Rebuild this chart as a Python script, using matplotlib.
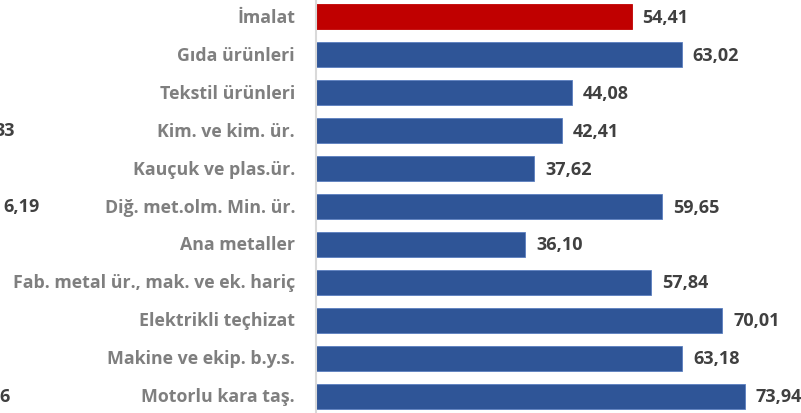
import matplotlib
matplotlib.use("Agg")
import matplotlib.pyplot as plt

categories = ["İmalat", "Gıda ürünleri", "Tekstil ürünleri", "Kim. ve kim. ür.",
              "Kauçuk ve plas.ür.", "Diğ. met.olm. Min. ür.", "Ana metaller",
              "Fab. metal ür., mak. ve ek. hariç", "Elektrikli teçhizat",
              "Makine ve ekip. b.y.s.", "Motorlu kara taş."]
values = [54.41, 63.02, 44.08, 42.41, 37.62, 59.65, 36.10, 57.84, 70.01, 63.18, 73.94]
value_labels = ["54,41", "63,02", "44,08", "42,41", "37,62", "59,65", "36,10",
                "57,84", "70,01", "63,18", "73,94"]
# fragments of a neighbouring chart's labels visible at the left edge
fragments = ["33", "6,19", "6"]
fragment_rows = [3, 5, 10]

plt.rcParams['font.family'] = ['Open Sans', 'DejaVu Sans']
W, H = 801, 414
fig = plt.figure(figsize=(W/100, H/100), dpi=100)
x0 = 316
scale = 5.8
xmax = 80
ax = fig.add_axes([x0/W, 0, xmax*scale/W, 1])
pitch = 38
c0 = 17.5
ax.set_ylim((H - c0)/pitch, -c0/pitch)
ax.set_xlim(0, xmax)

colors = ["#C00000"] + ["#2F5597"]*(len(values)-1)
edges = ["#C00000"] + ["#5B7FC0"]*(len(values)-1)
ypos = list(range(len(values)))
ax.barh(ypos, values, height=0.68, color=colors, edgecolor=edges, linewidth=0.6)
for y, v, lab in zip(ypos, values, value_labels):
    ax.text(v + 1.9, y, lab, va='center', ha='left', fontsize=13,
            fontweight='bold', color='#404040')
for y, c in zip(ypos, categories):
    ax.text(-3.6, y, c, va='center', ha='right', fontsize=12.8,
            fontweight='bold', color='#7F7F7F', clip_on=False)

frag_x = [15, 40, 10]
for fx, r, t in zip(frag_x, fragment_rows, fragments):
    fig.text(fx/W, 1 - (c0 + pitch*r)/H, t, ha='right', va='center', fontsize=13,
             fontweight='bold', color='#404040')

for s in ['top', 'right', 'bottom']:
    ax.spines[s].set_visible(False)
ax.spines['left'].set_color('#D9D9D9')
ax.spines['left'].set_linewidth(1.5)
ax.set_xticks([])
ax.set_yticks([])
ax.patch.set_alpha(0)
fig.savefig("out.png", dpi=100)
